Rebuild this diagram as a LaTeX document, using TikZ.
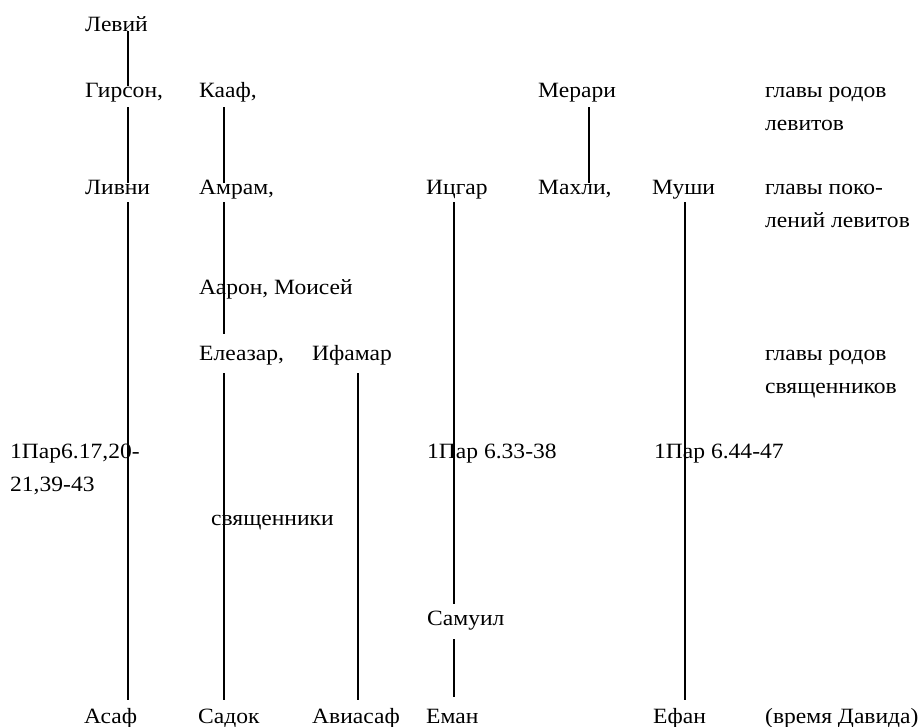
\documentclass[tikz,border=0pt]{standalone}
\usepackage{fontspec}
\setmainfont[FakeStretch=1.08]{Liberation Serif}
\begin{document}
\begin{tikzpicture}[x=1pt,y=-1pt,
  lbl/.style={anchor=base west,inner sep=0pt,font=\fontsize{21.8}{33}\selectfont},
  link/.style={line width=2.3pt}]
\useasboundingbox (0,0) rectangle (921,726);
% row 1
\node[lbl] (levij) at (85,31) {Левий};
% row 2
\node[lbl] (girson) at (85,97) {Гирсон,};
\node[lbl] (kaaf) at (199,97) {Кааф,};
\node[lbl] (merari) at (538,97) {Мерари};
\node[lbl] (gl1a) at (765,97) {главы родов};
\node[lbl] (gl1b) at (765,130) {левитов};
% row 3
\node[lbl] (livni) at (85,194) {Ливни};
\node[lbl] (amram) at (199,194) {Амрам,};
\node[lbl] (icgar) at (426,194) {Ицгар};
\node[lbl] (mahli) at (538,194) {Махли,};
\node[lbl] (mushi) at (652,194) {Муши};
\node[lbl] (gl2a) at (765,194) {главы поко-};
\node[lbl] (gl2b) at (765,227) {лений левитов};
% row 4
\node[lbl] (aaron) at (199,294) {Аарон, Моисей};
% row 5
\node[lbl] (eleazar) at (199,360) {Елеазар,};
\node[lbl] (ifamar) at (312,360) {Ифамар};
\node[lbl] (gl3a) at (765,360) {главы родов};
\node[lbl] (gl3b) at (765,393) {священников};
% references
\node[lbl] (ref1a) at (10,458) {1Пар6.17,20-};
\node[lbl] (ref1b) at (10,491) {21,39-43};
\node[lbl] (ref2) at (427,458) {1Пар 6.33-38};
\node[lbl] (ref3) at (654,458) {1Пар 6.44-47};
\node[lbl] (svyasch) at (211,525) {священники};
\node[lbl] (samuil) at (427,625) {Самуил};
% bottom row
\node[lbl] (asaf) at (84,723) {Асаф};
\node[lbl] (sadok) at (198,723) {Садок};
\node[lbl] (aviasaf) at (312,723) {Авиасаф};
\node[lbl] (eman) at (426,723) {Еман};
\node[lbl] (efan) at (653,723) {Ефан};
\node[lbl] (vremya) at (765,723) {(время Давида)};
% connector ends
\coordinate (c1a) at (128,31);  \coordinate (c1b) at (128,86);
\coordinate (c2a) at (128,107); \coordinate (c2b) at (128,183);
\coordinate (c3a) at (128,202); \coordinate (c3b) at (128,700);
\coordinate (c4a) at (224,107); \coordinate (c4b) at (224,183);
\coordinate (c5a) at (224,202); \coordinate (c5b) at (224,334);
\coordinate (c6a) at (224,373); \coordinate (c6b) at (224,700);
\coordinate (c7a) at (358,373); \coordinate (c7b) at (358,700);
\coordinate (c8a) at (454,202); \coordinate (c8b) at (454,604);
\coordinate (c9a) at (454,639); \coordinate (c9b) at (454,697);
\coordinate (c10a) at (589,107); \coordinate (c10b) at (589,183);
\coordinate (c11a) at (685,202); \coordinate (c11b) at (685,700);
\draw[link] (c1a) -- (c1b);
\draw[link] (c2a) -- (c2b);
\draw[link] (c3a) -- (c3b);
\draw[link] (c4a) -- (c4b);
\draw[link] (c5a) -- (c5b);
\draw[link] (c6a) -- (c6b);
\draw[link] (c7a) -- (c7b);
\draw[link] (c8a) -- (c8b);
\draw[link] (c9a) -- (c9b);
\draw[link] (c10a) -- (c10b);
\draw[link] (c11a) -- (c11b);
\end{tikzpicture}
\end{document}
